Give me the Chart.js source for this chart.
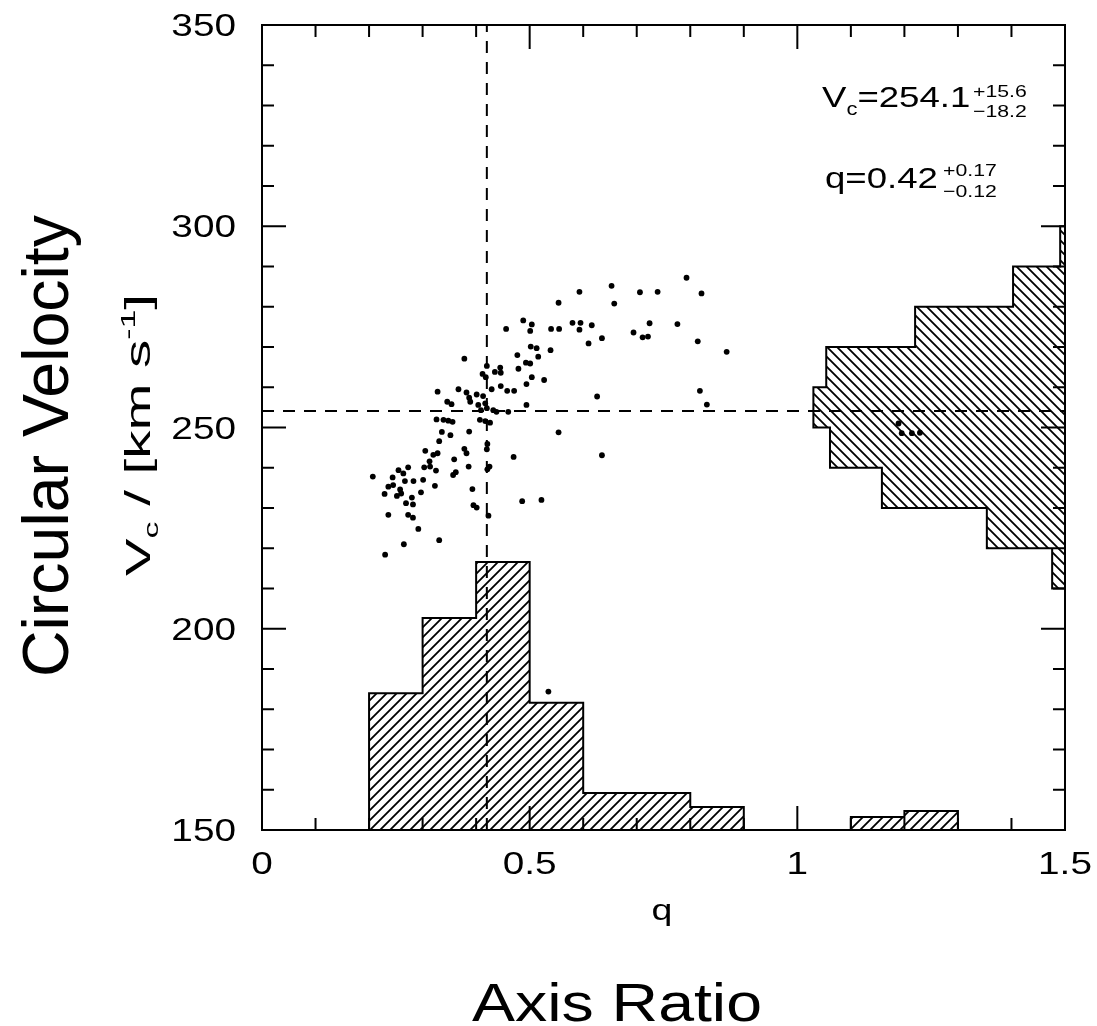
<!DOCTYPE html>
<html>
<head>
<meta charset="utf-8">
<script src="https://cdn.jsdelivr.net/npm/chart.js@4.4.1/dist/chart.umd.min.js"></script>
<style>
html, body { margin: 0; padding: 0; background: #fff; }
#wrap { width: 1097px; height: 1026px; }
</style>
</head>
<body>
<div id="wrap"><canvas id="axisChart" width="1097" height="1026"></canvas></div>
<script>
// scatter of the samples: axis ratio q vs circular velocity
const qSample = [
    0.653, 0.593, 0.658, 0.554, 0.488, 0.504, 0.456, 0.501, 0.540, 0.555,
    0.580, 0.595, 0.593, 0.616, 0.610, 0.635, 0.502, 0.513, 0.516, 0.539,
    0.477, 0.378, 0.420, 0.445, 0.435, 0.446, 0.493, 0.501, 0.479, 0.412,
    0.418, 0.504, 0.494, 0.527, 0.328, 0.367, 0.382, 0.387, 0.401, 0.413,
    0.429, 0.446, 0.458, 0.471, 0.346, 0.354, 0.389, 0.404, 0.417, 0.409,
    0.420, 0.432, 0.438, 0.460, 0.494, 0.626, 0.326, 0.339, 0.348, 0.356,
    0.407, 0.417, 0.426, 0.554, 0.336, 0.352, 0.387, 0.331, 0.305, 0.320,
    0.328, 0.313, 0.378, 0.382, 0.421, 0.420, 0.470, 0.635, 0.273, 0.255,
    0.264, 0.244, 0.207, 0.303, 0.314, 0.325, 0.359, 0.386, 0.425, 0.421,
    0.357, 0.362, 0.267, 0.283, 0.301, 0.323, 0.236, 0.245, 0.258, 0.229,
    0.252, 0.260, 0.297, 0.280, 0.269, 0.282, 0.393, 0.486, 0.522, 0.395,
    0.401, 0.236, 0.273, 0.282, 0.423, 0.292, 0.331, 0.265, 0.230,
    0.706, 0.739, 0.793, 0.821, 0.694, 0.711, 0.721, 0.724, 0.776, 0.814,
    0.868, 0.818, 0.831, 0.535, 1.189, 1.195, 1.214, 1.229
];
const vcSample = [
    285.2, 283.7, 280.8, 281.0, 276.6, 275.6, 274.5, 274.0, 274.5, 274.5,
    276.0, 276.0, 274.3, 275.4, 270.9, 272.2, 270.1, 269.7, 267.6, 269.2,
    268.0, 267.1, 265.3, 264.9, 263.8, 263.6, 266.1, 265.9, 264.6, 263.3,
    262.5, 262.5, 260.8, 261.8, 258.9, 259.5, 258.7, 257.4, 258.2, 257.8,
    259.5, 260.3, 259.1, 259.1, 256.4, 255.8, 256.4, 255.6, 256.0, 254.3,
    254.8, 254.3, 253.9, 253.9, 255.6, 257.7, 252.0, 251.9, 251.7, 251.4,
    251.9, 251.6, 251.2, 248.8, 248.9, 248.1, 249.0, 246.6, 244.2, 243.2,
    243.6, 241.6, 244.7, 243.6, 245.9, 244.6, 242.7, 243.1, 240.1, 239.4,
    238.6, 237.6, 237.8, 240.1, 240.3, 239.3, 242.1, 240.3, 240.3, 239.6,
    238.2, 238.9, 236.7, 236.7, 237.0, 235.5, 235.3, 235.7, 234.6, 233.5,
    233.0, 233.6, 233.9, 232.6, 231.2, 230.9, 234.7, 231.7, 232.0, 230.7,
    230.1, 228.3, 228.3, 227.6, 228.1, 224.8, 222.0, 221.0, 218.4,
    283.6, 283.7, 287.2, 283.3, 273.6, 272.4, 272.6, 275.9, 275.7, 271.4,
    268.8, 259.1, 255.7, 184.4, 251.0, 248.6, 248.6, 248.7
];

// marginal histogram of q (bar tops in velocity units)
const qBinEdges = [0.2, 0.3, 0.4, 0.5, 0.6, 0.7, 0.8, 0.9, 1.0, 1.1, 1.2, 1.3];
const qBinTops = [184.0, 202.7, 216.6, 181.6, 159.2, 159.2, 155.7, 150, 150, 153.2, 154.7];

// marginal histogram of Vc (bar left ends in q units)
const vcBinEdges = [210, 220, 230, 240, 250, 260, 270, 280, 290, 300];
const vcBinLeft = [1.476, 1.354, 1.158, 1.061, 1.030, 1.054, 1.220, 1.403, 1.491];

const qBest = 0.42;
const vcBest = 254.1;

const xRange = [0, 1.5];
const yRange = [150, 350];
const xMajorTicks = [0, 0.5, 1, 1.5];
const xTickLabels = ['0', '0.5', '1', '1.5'];
const xMinorTicks = [0.1, 0.2, 0.3, 0.4, 0.6, 0.7, 0.8, 0.9, 1.1, 1.2, 1.3, 1.4];
const yMajorTicks = [150, 200, 250, 300, 350];
const yTickLabels = ['150', '200', '250', '300', '350'];
const yMinorTicks = [160, 170, 180, 190, 210, 220, 230, 240, 260, 270, 280, 290, 310, 320, 330, 340];

const FONT = '"Liberation Sans", Arial, sans-serif';
const STRETCH = 1.25;

function makeHatch(dir) {
    const s = 10;
    const c = document.createElement('canvas');
    c.width = s; c.height = s;
    const g = c.getContext('2d');
    g.strokeStyle = '#000';
    g.lineWidth = 1.8;
    g.beginPath();
    if (dir === '/') {
        g.moveTo(-1, s + 1); g.lineTo(s + 1, -1);
        g.moveTo(-s / 2 - 1, s / 2 + 1); g.lineTo(s / 2 + 1, -s / 2 - 1);
        g.moveTo(s / 2 - 1, s * 1.5 + 1); g.lineTo(s * 1.5 + 1, s / 2 - 1);
    } else {
        g.moveTo(-1, -1); g.lineTo(s + 1, s + 1);
        g.moveTo(-s / 2 - 1, s / 2 - 1); g.lineTo(s / 2 + 1, s * 1.5 + 1);
        g.moveTo(s / 2 - 1, -s / 2 - 1); g.lineTo(s * 1.5 + 1, s / 2 + 1);
    }
    g.stroke();
    return g.createPattern(c, 'repeat');
}

function qHistOutline() {
    const pts = [{ x: qBinEdges[0], y: yRange[0] }];
    qBinTops.forEach((top, i) => {
        pts.push({ x: qBinEdges[i], y: top });
        pts.push({ x: qBinEdges[i + 1], y: top });
    });
    pts.push({ x: qBinEdges[qBinEdges.length - 1], y: yRange[0] });
    return pts;
}

function vcHistOutline() {
    const pts = [{ x: xRange[1], y: vcBinEdges[0] }];
    vcBinLeft.forEach((left, i) => {
        pts.push({ x: left, y: vcBinEdges[i] });
        pts.push({ x: left, y: vcBinEdges[i + 1] });
    });
    pts.push({ x: xRange[1], y: vcBinEdges[vcBinEdges.length - 1] });
    return pts;
}

// draws a run of text pieces, [text, size, baseline shift]
function textRun(ctx, pieces, x, y, opts) {
    opts = opts || {};
    ctx.save();
    ctx.translate(x, y);
    if (opts.rot) ctx.rotate(opts.rot);
    let total = 0;
    pieces.forEach(p => {
        ctx.font = p[1] + 'px ' + FONT;
        total += ctx.measureText(p[0]).width;
    });
    let sx = opts.sx || 1;
    if (opts.fit) sx = opts.fit / total;
    ctx.scale(sx, 1);
    let cx = 0;
    if (opts.align === 'center') cx = -total / 2;
    if (opts.align === 'right') cx = -total;
    ctx.fillStyle = '#000';
    ctx.textBaseline = 'alphabetic';
    ctx.textAlign = 'left';
    pieces.forEach(p => {
        ctx.font = p[1] + 'px ' + FONT;
        ctx.fillText(p[0], cx, p[2] || 0);
        cx += ctx.measureText(p[0]).width;
    });
    ctx.restore();
}

const framePlugin = {
    id: 'frame',
    afterDraw(chart) {
        const ctx = chart.ctx;
        const xs = chart.scales.x, ys = chart.scales.y;
        const a = chart.chartArea;
        ctx.save();
        ctx.strokeStyle = '#000';
        ctx.lineWidth = 2;
        ctx.strokeRect(a.left, a.top, a.right - a.left, a.bottom - a.top);
        ctx.beginPath();
        const tick = (vals, len) => {
            vals.forEach(v => {
                const px = xs.getPixelForValue(v);
                ctx.moveTo(px, a.bottom); ctx.lineTo(px, a.bottom - len);
                ctx.moveTo(px, a.top); ctx.lineTo(px, a.top + len);
            });
        };
        const ytick = (vals, len) => {
            vals.forEach(v => {
                const py = ys.getPixelForValue(v);
                ctx.moveTo(a.left, py); ctx.lineTo(a.left + len, py);
                ctx.moveTo(a.right, py); ctx.lineTo(a.right - len, py);
            });
        };
        tick(xMajorTicks, 24); tick(xMinorTicks, 12);
        ytick(yMajorTicks, 24); ytick(yMinorTicks, 12);
        ctx.stroke();
        ctx.restore();

        xMajorTicks.forEach((v, i) => {
            textRun(ctx, [[xTickLabels[i], 31]], xs.getPixelForValue(v), a.bottom + 44,
                { align: 'center', sx: STRETCH });
        });
        yMajorTicks.forEach((v, i) => {
            textRun(ctx, [[yTickLabels[i], 31]], a.left - 26, ys.getPixelForValue(v) + 11,
                { align: 'right', sx: STRETCH });
        });

        textRun(ctx, [['q', 30]], 662, 920, { align: 'center', sx: STRETCH });
        textRun(ctx, [['V', 35], ['c', 21, 8], [' / [km s', 35], ['-1', 21, -15], [']', 35]],
            150, 435, { align: 'center', rot: -Math.PI / 2, fit: 282 });

        textRun(ctx, [['V', 30], ['c', 18, 8], ['=254.1', 30]], 822, 107, { sx: 1.22 });
        textRun(ctx, [['+15.6', 17]], 973, 97, { sx: 1.25 });
        textRun(ctx, [['\u221218.2', 17]], 973, 117, { sx: 1.25 });
        textRun(ctx, [['q=0.42', 30]], 825, 188, { sx: 1.22 });
        textRun(ctx, [['+0.17', 17]], 943, 176, { sx: 1.25 });
        textRun(ctx, [['\u22120.12', 17]], 943, 197, { sx: 1.25 });

        textRun(ctx, [['Circular Velocity', 64]], 68, 446, { align: 'center', rot: -Math.PI / 2, fit: 462 });
        textRun(ctx, [['Axis Ratio', 54]], 617, 1021, { align: 'center', fit: 290 });
    }
};

const ctx = document.getElementById('axisChart').getContext('2d');
new Chart(ctx, {
    type: 'line',
    data: {
        datasets: [
            {
                label: 'samples',
                data: qSample.map((q, i) => ({ x: q, y: vcSample[i] })),
                showLine: false,
                pointRadius: 2.9,
                pointBackgroundColor: '#000',
                pointBorderWidth: 0,
                order: 0
            },
            {
                label: 'q best',
                data: [{ x: qBest, y: yRange[0] }, { x: qBest, y: yRange[1] }],
                borderColor: '#000',
                borderWidth: 2,
                borderDash: [12, 9],
                pointRadius: 0,
                order: 1
            },
            {
                label: 'Vc best',
                data: [{ x: xRange[0], y: vcBest }, { x: xRange[1], y: vcBest }],
                borderColor: '#000',
                borderWidth: 2,
                borderDash: [12, 9],
                pointRadius: 0,
                order: 1
            },
            {
                label: 'q histogram',
                data: qHistOutline(),
                borderColor: '#000',
                borderWidth: 2,
                backgroundColor: makeHatch('/'),
                fill: 'start',
                pointRadius: 0,
                order: 2
            },
            {
                label: 'Vc histogram',
                data: vcHistOutline(),
                borderColor: '#000',
                borderWidth: 2,
                backgroundColor: makeHatch('\\'),
                fill: 'shape',
                pointRadius: 0,
                order: 2
            }
        ]
    },
    options: {
        responsive: false,
        devicePixelRatio: 1,
        animation: false,
        layout: { padding: { left: 262, top: 25, right: 32, bottom: 196 } },
        scales: {
            x: { type: 'linear', min: xRange[0], max: xRange[1], display: false },
            y: { type: 'linear', min: yRange[0], max: yRange[1], display: false }
        },
        plugins: {
            legend: { display: false },
            tooltip: { enabled: false }
        }
    },
    plugins: [framePlugin]
});
</script>
</body>
</html>
